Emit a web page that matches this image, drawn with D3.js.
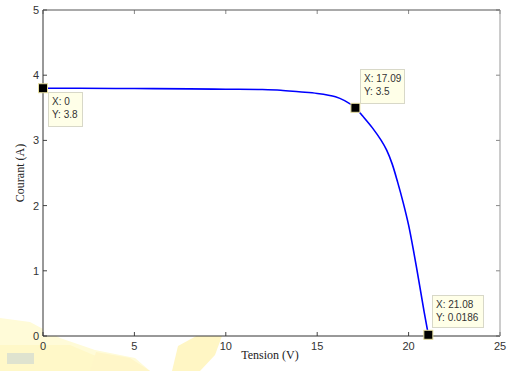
<!DOCTYPE html>
<html><head><meta charset="utf-8">
<script src="https://cdn.jsdelivr.net/npm/d3@7"></script>
<style>html,body{margin:0;padding:0;background:#fff;}</style>
</head><body>
<svg id="c" width="507" height="371"></svg>
<script>
const voltage = [0, 2, 5, 8, 10, 12, 13, 14, 15, 16, 16.5, 17.09, 17.5, 18.0, 18.5, 18.8, 19.1, 19.4, 19.7, 20.0, 20.3, 20.6, 20.85, 21.08];
const current = [3.8, 3.8, 3.795, 3.79, 3.785, 3.78, 3.77, 3.745, 3.72, 3.67, 3.61, 3.5, 3.37, 3.2, 3.0, 2.85, 2.64, 2.36, 2.05, 1.70, 1.26, 0.78, 0.37, 0.0186];
const xTicks = [0, 5, 10, 15, 20, 25];
const yTicks = [0, 1, 2, 3, 4, 5];
const tipX = [0, 17.09, 21.08];
const tipY = [3.8, 3.5, 0.0186];
const tipLabelX = ["X: 0", "X: 17.09", "X: 21.08"];
const tipLabelY = ["Y: 3.8", "Y: 3.5", "Y: 0.0186"];
const xLabel = "Tension (V)";
const yLabel = "Courant (A)";

const svg = d3.select("#c");
const L = 43, R = 500, T = 10, B = 336;
const x = d3.scaleLinear().domain([0, 25]).range([L, R]);
const y = d3.scaleLinear().domain([0, 5]).range([B, T]);

// faint watermark
const wm = svg.append("g");
wm.append("path").attr("d","M0,318 L30,322 L60,338 L95,350 L135,358 L150,371 L0,371 Z").attr("fill","#fffbd8");
wm.append("path").attr("d","M0,345 L70,345 L110,362 L120,371 L0,371 Z").attr("fill","#fff8c8");
wm.append("path").attr("d","M178,346 L200,334 L222,336 L215,355 L200,371 L172,371 Z").attr("fill","#fff6c4");
wm.append("path").attr("d","M96,352 L130,358 L150,371 L90,371 Z").attr("fill","#fff6c8");
wm.append("rect").attr("x",7).attr("y",353).attr("width",27).attr("height",11).attr("fill","#dfe3cf");

svg.append("rect").attr("x", L).attr("y", T).attr("width", R - L).attr("height", B - T)
  .attr("fill", "#fff").attr("stroke", "none");

const gx = svg.append("g");
xTicks.forEach(t => {
  gx.append("line").attr("x1", x(t)).attr("x2", x(t)).attr("y1", B).attr("y2", B - 4).attr("stroke", "#444");
  gx.append("line").attr("x1", x(t)).attr("x2", x(t)).attr("y1", T).attr("y2", T + 4).attr("stroke", "#888");
  gx.append("text").attr("x", x(t)).attr("y", B + 14).attr("text-anchor", "middle")
    .attr("font-family", "Arial, Liberation Sans, sans-serif").attr("font-size", 11).attr("fill", "#333").text(t);
});
yTicks.forEach(t => {
  gx.append("line").attr("x1", L).attr("x2", L + 4).attr("y1", y(t)).attr("y2", y(t)).attr("stroke", "#444");
  gx.append("line").attr("x1", R).attr("x2", R - 4).attr("y1", y(t)).attr("y2", y(t)).attr("stroke", "#888");
  gx.append("text").attr("x", L - 4).attr("y", y(t) + 4).attr("text-anchor", "end")
    .attr("font-family", "Arial, Liberation Sans, sans-serif").attr("font-size", 11).attr("fill", "#333").text(t);
});
svg.append("line").attr("x1", L).attr("x2", R).attr("y1", B).attr("y2", B).attr("stroke", "#333");
svg.append("line").attr("x1", L).attr("x2", L).attr("y1", T).attr("y2", B).attr("stroke", "#333");
svg.append("line").attr("x1", L).attr("x2", R).attr("y1", T).attr("y2", T).attr("stroke", "#555");
svg.append("line").attr("x1", R).attr("x2", R).attr("y1", T).attr("y2", B).attr("stroke", "#999");

const pts = voltage.map((v, i) => [v, current[i]]);
svg.append("path").datum(pts)
  .attr("d", d3.line().x(d => x(d[0])).y(d => y(d[1])).curve(d3.curveCatmullRom.alpha(0.5)))
  .attr("fill", "none").attr("stroke", "#0000ff").attr("stroke-width", 1.6);

svg.append("text").attr("x", 270).attr("y", 359).attr("text-anchor", "middle")
  .attr("font-family", "Times New Roman, Liberation Serif, serif").attr("font-size", 12)
  .attr("font-weight", "normal").attr("fill", "#222").text(xLabel);
svg.append("text").attr("transform", "translate(24,173) rotate(-90)").attr("text-anchor", "middle")
  .attr("font-family", "Times New Roman, Liberation Serif, serif").attr("font-size", 12)
  .attr("font-weight", "normal").attr("fill", "#222").text(yLabel);

const boxes = [[48, 92, 34, 34], [360, 69, 44, 34], [432, 295, 51, 32]];
tipX.forEach((tx, i) => {
  const [bx, by, bw, bh] = boxes[i];
  const g = svg.append("g");
  g.append("rect").attr("x", bx + 0.5).attr("y", by + 0.5).attr("width", bw).attr("height", bh)
    .attr("fill", "#ffffe8").attr("stroke", "#d8d8c8");
  g.append("text").attr("x", bx + 4).attr("y", by + 13).attr("font-family", "Arial, Liberation Sans, sans-serif")
    .attr("font-size", 10).attr("fill", "#333").text(tipLabelX[i]);
  g.append("text").attr("x", bx + 4).attr("y", by + 26).attr("font-family", "Arial, Liberation Sans, sans-serif")
    .attr("font-size", 10).attr("fill", "#333").text(tipLabelY[i]);
  g.append("rect").attr("x", x(tx) - 4.5).attr("y", y(tipY[i]) - 4.5).attr("width", 9).attr("height", 9)
    .attr("fill", "#000").attr("stroke", "#e8e0a0").attr("stroke-width", 1);
});
</script>
</body></html>
